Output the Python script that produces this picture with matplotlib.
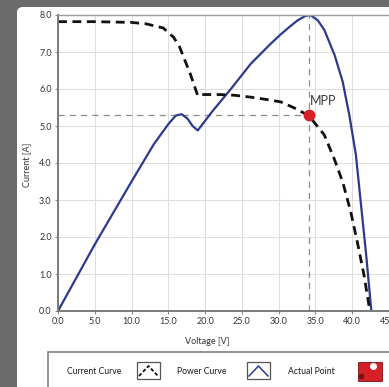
import matplotlib
matplotlib.use("Agg")
import matplotlib.pyplot as plt
from matplotlib.patches import FancyBboxPatch, Rectangle
from matplotlib.lines import Line2D

plt.rcParams['font.family'] = ['Lato', 'DejaVu Sans']

# current curve (V, A)
cur_v = [0, 5, 10, 12, 14.3, 15.7, 16.5, 17.2, 18.0, 18.6, 19.0, 19.5, 22, 24, 26.2,
         28.9, 30.3, 32.1, 34.1, 36.2, 37.5, 38.7, 39.8, 40.7, 41.6, 42.4]
cur_i = [7.82, 7.82, 7.80, 7.76, 7.65, 7.40, 7.15, 6.80, 6.40, 6.05, 5.82, 5.85, 5.85, 5.83, 5.78,
         5.70, 5.65, 5.49, 5.28, 4.76, 4.14, 3.49, 2.68, 1.86, 0.97, 0.0]

# power curve, scaled onto the current axis
pow_v = [0, 5, 10, 13, 15, 16.0, 16.8, 17.6, 18.3, 19.0, 21, 23.5, 26.2, 28.9, 30.3, 31.6, 32.6,
         33.6, 34.3, 35.3, 36.2, 37.6, 38.7, 39.6, 40.5, 41.2, 41.9, 42.6]
pow_p = [0, 1.8, 3.5, 4.5, 5.05, 5.28, 5.32, 5.2, 5.0, 4.88, 5.4, 6.0, 6.68, 7.22, 7.48, 7.7, 7.86,
         7.97, 8.0, 7.86, 7.6, 6.92, 6.2, 5.3, 4.22, 2.86, 1.51, 0.0]

mpp_v = 34.1
mpp_i = 5.3

xticks = [0, 5, 10, 15, 20, 25, 30, 35, 40, 45]
yticks = [0, 1, 2, 3, 4, 5, 6, 7, 8]

W, H = 389, 387
fig = plt.figure(figsize=(W / 100, H / 100), dpi=100)
fig.patch.set_facecolor('#6b6b6b')


def fx(x):
    return x / W


def fy(y):
    return 1 - y / H


# white panel
panel = FancyBboxPatch((fx(17), -0.1), 1.2, fy(7) + 0.1, boxstyle="round,pad=0,rounding_size=0.015",
                       transform=fig.transFigure, facecolor='white', edgecolor='none', zorder=-10)
fig.patches.append(panel)

ax = fig.add_axes([fx(58), fy(311), 1 - fx(58), fy(15) - fy(311)])
ax.set_zorder(5)
ax.set_facecolor('white')
ax.set_xlim(0, 45)
ax.set_ylim(0, 8)
ax.set_xticks(xticks)
ax.set_yticks(yticks)
ax.set_xticklabels([f"{t:.1f}" for t in xticks])
ax.set_yticklabels([f"{t:.1f}" for t in yticks])
ax.tick_params(labelsize=6.5, colors='#333333', length=2.5, width=0.8, pad=2)
ax.tick_params(axis='both', color='#888888')
ax.grid(True, color='#dedede', lw=0.8)
ax.set_axisbelow(True)
for s in ['left', 'bottom']:
    ax.spines[s].set_color('#7a7a7a')
    ax.spines[s].set_linewidth(1.4)
ax.spines['top'].set_color('#9a9a9a')
ax.spines['top'].set_linewidth(1.0)
ax.spines['right'].set_visible(False)

# MPP guide lines
ax.plot([0, mpp_v], [mpp_i, mpp_i], color='#8c8c8c', lw=0.9, dashes=(5, 4))
ax.plot([mpp_v, mpp_v], [0, 8], color='#8c8c8c', lw=0.9, dashes=(5, 4))

ax.plot(pow_v, pow_p, color='#2c3a8c', lw=1.6, solid_joinstyle='round')
ax.plot(cur_v, cur_i, color='#111111', lw=2.0, dashes=(3.2, 2.0))
ax.plot([mpp_v], [mpp_i], 'o', color='#d61f26', ms=7.5, mec='#d61f26')
ax.text(mpp_v + 0.2, mpp_i + 0.22, "MPP", fontsize=9, color='#3a3a3a', ha='left', va='bottom')

fig.text(fx(27), fy(165), "Current [A]", rotation=90, fontsize=6.5, color='#333333',
         ha='center', va='center')
fig.text(fx(207), fy(342), "Voltage [V]", fontsize=6.5, color='#333333', ha='center', va='center')

# legend box
fig.patches.append(Rectangle((fx(48), -0.1), 1.2, fy(352) + 0.1, transform=fig.transFigure,
                             facecolor='white', edgecolor='#8a8a8a', lw=1.3, zorder=-5))
ty = fy(371)
fig.text(fx(67), ty, "Current Curve", fontsize=6.2, color='#1a1a1a', va='center')
fig.text(fx(177), ty, "Power Curve", fontsize=6.2, color='#1a1a1a', va='center')
fig.text(fx(288), ty, "Actual Point", fontsize=6.2, color='#1a1a1a', va='center')


def icon_box(x0):
    fig.patches.append(Rectangle((fx(x0), fy(379)), fx(23), fy(362) - fy(379), transform=fig.transFigure,
                                 facecolor='white', edgecolor='#555555', lw=0.9))


icon_box(137)
fig.lines.append(Line2D([fx(139), fx(148.5), fx(158)], [fy(376), fy(366), fy(376)], transform=fig.transFigure,
                        color='#111111', lw=1.3, dashes=(2, 1.2)))
icon_box(247)
fig.lines.append(Line2D([fx(249), fx(258.5), fx(268)], [fy(376), fy(366), fy(376)], transform=fig.transFigure,
                        color='#2c3a8c', lw=1.1))
fig.patches.append(Rectangle((fx(358), fy(381)), fx(24), fy(362) - fy(381), transform=fig.transFigure,
                             facecolor='#d61f26', edgecolor='#7a1010', lw=0.6))
fig.lines.append(Line2D([fx(361)], [fy(376)], transform=fig.transFigure, marker='o', color='#7a1010', ms=3))
fig.lines.append(Line2D([fx(373)], [fy(366)], transform=fig.transFigure, marker='o', color='white', ms=4))

fig.savefig("out.png", dpi=100, facecolor=fig.get_facecolor())
